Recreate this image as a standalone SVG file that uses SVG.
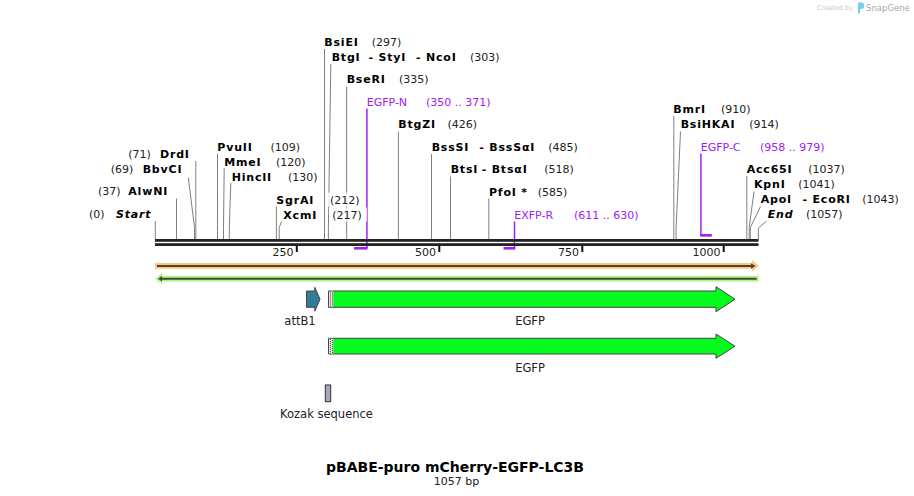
<svg xmlns="http://www.w3.org/2000/svg" width="914" height="496" viewBox="0 0 914 496">
<style>
.n{font-family:"DejaVu Sans",Verdana,sans-serif;font-weight:bold;font-size:11px;letter-spacing:0.8px;fill:#000}
.it{font-style:italic}
.p{font-family:"DejaVu Sans",Verdana,sans-serif;font-size:11px;fill:#222}
.pr{font-family:"DejaVu Sans",Verdana,sans-serif;font-size:11px;fill:#a020f0}
.en{stroke:#808080;stroke-width:1;fill:none}
.pl{stroke:#a020f0;stroke-width:1.5;fill:none}
.fl{font-family:"DejaVu Sans",Verdana,sans-serif;font-size:11.5px;fill:#222;text-anchor:middle}
.tk{stroke:#111;stroke-width:2}
.tl{font-family:"DejaVu Sans",Verdana,sans-serif;font-size:11px;fill:#222;text-anchor:end}
.feat{stroke:#444;stroke-width:1}
.wb{fill:#fff;opacity:0.8}
</style>
<rect width="914" height="496" fill="#fff"/>

<!-- watermark -->
<g id="watermark">
<text x="817" y="10" font-family="DejaVu Sans,sans-serif" font-size="6.5" fill="#c8c8c8">Created by</text>
<path d="M858,2.5 h3 a3.2,3.2 0 0 1 0,6.4 h-1 v4.3 h-2 z" fill="#7cc9ee"/>
<text x="866" y="11" font-family="DejaVu Sans,sans-serif" font-size="8.5" fill="#a8a8a8">SnapGene</text>
</g>

<!-- connectors: enzyme site lines and primer lines -->
<g id="connectors">
<path class="en" d="M155.3,221 V239"/>
<path class="en" d="M176.5,198.5 V239"/>
<path class="en" d="M188.3,177.5 L194.5,227.5 V239"/>
<path class="en" d="M195.8,161 V239"/>
<path class="en" d="M217.5,153.5 V239"/>
<path class="en" d="M224.2,168 L223.5,227.5 V239"/>
<path class="en" d="M230.8,183 L229.3,227.5 V239"/>
<path class="en" d="M276.4,206.5 V239"/>
<path class="en" d="M281.5,221.5 L279.2,227.5 V239"/>
<path class="en" d="M324.5,49 V239"/>
<path class="en" d="M330.8,64 L328.4,227.5 V239"/>
<path class="en" d="M346.7,86.5 V239"/>
<path class="en" d="M398.4,131.5 V239"/>
<path class="en" d="M431.5,154 V239"/>
<path class="en" d="M450.5,176.5 V239"/>
<path class="en" d="M488.8,198.5 V239"/>
<path class="en" d="M673.8,116 V239"/>
<path class="en" d="M680.5,131.5 L676.1,228 V239"/>
<path class="en" d="M746.8,176 V239"/>
<path class="en" d="M754,191.5 L749.2,227.5 V239"/>
<path class="en" d="M760.5,206.5 L750.3,227.5 V239"/>
<path class="en" d="M766.5,221 L758.4,228 V239"/>
<!-- primers -->
<path class="pl" d="M366.9,108.5 V248"/>
<rect x="354" y="247" width="13.6" height="2.6" fill="#a020f0"/>
<path class="pl" d="M514.5,221.5 V248"/>
<rect x="503.5" y="247" width="11.8" height="2.6" fill="#a020f0"/>
<path class="pl" d="M700.9,153.5 V236"/>
<rect x="700.2" y="234" width="11.6" height="2.6" fill="#a020f0"/>
</g>

<!-- sequence axis -->
<g id="axis">
<rect x="155" y="239" width="603.5" height="2.8" fill="#222"/>
<rect x="155" y="243.2" width="603.5" height="2.8" fill="#222"/>
<line class="tk" x1="296.8" y1="246" x2="296.8" y2="252"/>
<line class="tk" x1="439.3" y1="246" x2="439.3" y2="252"/>
<line class="tk" x1="582.3" y1="246" x2="582.3" y2="252"/>
<line class="tk" x1="723.7" y1="246" x2="723.7" y2="252"/>
<text class="tl" x="293.5" y="255.5">250</text>
<text class="tl" x="436" y="255.5">500</text>
<text class="tl" x="579" y="255.5">750</text>
<text class="tl" x="720.5" y="255.5">1000</text>
</g>

<!-- enzyme labels -->
<g id="site-Start"><text y="218.3"><tspan class="p" x="89">(0)</tspan><tspan class="n it" x="116">Start</tspan></text></g>
<g id="site-AlwNI"><text y="195"><tspan class="p" x="98">(37)</tspan><tspan class="n" x="128.3">AlwNI</tspan></text></g>
<g id="site-BbvCI"><text y="173.3"><tspan class="p" x="110.7">(69)</tspan><tspan class="n" x="142.7">BbvCI</tspan></text></g>
<g id="site-DrdI"><text y="158.3"><tspan class="p" x="128.3">(71)</tspan><tspan class="n" x="160">DrdI</tspan></text></g>
<g id="site-PvuII"><text y="150.7"><tspan class="n" x="217.3">PvuII</tspan><tspan class="p" x="270.5">(109)</tspan></text></g>
<g id="site-MmeI"><text y="165.7"><tspan class="n" x="224.3">MmeI</tspan><tspan class="p" x="276">(120)</tspan></text></g>
<g id="site-HincII"><text y="180.7"><tspan class="n" x="231.7">HincII</tspan><tspan class="p" x="288">(130)</tspan></text></g>
<g id="site-SgrAI"><rect class="wb" x="327" y="192.5" width="35" height="14"/><text y="203.7"><tspan class="n" x="276.3">SgrAI</tspan><tspan class="p" x="330">(212)</tspan></text></g>
<g id="site-XcmI"><rect class="wb" x="329" y="207.5" width="38" height="14"/><text y="218.7"><tspan class="n" x="283.3">XcmI</tspan><tspan class="p" x="332.3">(217)</tspan></text></g>
<g id="site-BsiEI"><text y="45.7"><tspan class="n" x="324.3">BsiEI</tspan><tspan class="p" x="371.7">(297)</tspan></text></g>
<g id="site-BtgI"><text y="60.7"><tspan class="n" x="331.7">BtgI</tspan><tspan class="n" x="368.5">- StyI</tspan><tspan class="n" x="416">- NcoI</tspan><tspan class="p" x="470">(303)</tspan></text></g>
<g id="site-BseRI"><text y="83.3"><tspan class="n" x="346.7">BseRI</tspan><tspan class="p" x="399">(335)</tspan></text></g>
<g id="primer-EGFP-N"><text y="105.7"><tspan class="pr" x="366.7">EGFP-N</tspan><tspan class="pr" x="426">(350 .. 371)</tspan></text></g>
<g id="site-BtgZI"><text y="128.3"><tspan class="n" x="398.3">BtgZI</tspan><tspan class="p" x="447.5">(426)</tspan></text></g>
<g id="site-BssSI"><text y="150.7"><tspan class="n" x="431.7">BssSI</tspan><tspan class="n" x="479.3">- BssSαI</tspan><tspan class="p" x="548.3">(485)</tspan></text></g>
<g id="site-BtsI"><text y="173.3"><tspan class="n" x="450.7">BtsI</tspan><tspan class="n" x="481.7">- BtsαI</tspan><tspan class="p" x="544.3">(518)</tspan></text></g>
<g id="site-PfoI"><text y="195.7"><tspan class="n" x="489">PfoI *</tspan><tspan class="p" x="537.7">(585)</tspan></text></g>
<g id="primer-EXFP-R"><text y="218.7"><tspan class="pr" x="514.3">EXFP-R</tspan><tspan class="pr" x="574">(611 .. 630)</tspan></text></g>
<g id="site-BmrI"><text y="113.3"><tspan class="n" x="673.3">BmrI</tspan><tspan class="p" x="721">(910)</tspan></text></g>
<g id="site-BsiHKAI"><text y="128.3"><tspan class="n" x="680.7">BsiHKAI</tspan><tspan class="p" x="749.3">(914)</tspan></text></g>
<g id="primer-EGFP-C"><text y="150.7"><tspan class="pr" x="700.7">EGFP-C</tspan><tspan class="pr" x="760">(958 .. 979)</tspan></text></g>
<g id="site-Acc65I"><text y="173.3"><tspan class="n" x="746.7">Acc65I</tspan><tspan class="p" x="808.3">(1037)</tspan></text></g>
<g id="site-KpnI"><text y="188.3"><tspan class="n" x="754">KpnI</tspan><tspan class="p" x="798.3">(1041)</tspan></text></g>
<g id="site-ApoI"><text y="203.3"><tspan class="n" x="760.7">ApoI</tspan><tspan class="n" x="802.5">- EcoRI</tspan><tspan class="p" x="862.3">(1043)</tspan></text></g>
<g id="site-End"><text y="218.3"><tspan class="n it" x="767.7">End</tspan><tspan class="p" x="806">(1057)</tspan></text></g>

<!-- ORF-like bars -->
<g id="bar-forward">
<path d="M155,263 H752 V260 L758.7,265.8 L752,271.5 V268.7 H155 Z" fill="#f9c97c"/>
<path d="M157,265 H751 V263.3 L755.5,266 L751,268.7 V267 H157 Z" fill="#4a4236"/>
</g>
<g id="bar-reverse">
<path d="M758.7,275.7 H162.5 V272.7 L155,278.7 L162.5,284.7 V281.7 H758.7 Z" fill="#b8f48e"/>
<path d="M756.7,277.7 H162 V276 L158,278.7 L162,281.4 V279.7 H756.7 Z" fill="#434a3c"/>
</g>

<!-- features -->
<g id="feature-attB1">
<path class="feat" d="M306.5,291 H314.8 V287.3 L320,299.2 L314.8,311.2 V307.3 H306.5 Z" fill="#2f7e98" stroke="#222"/>
<text class="fl" x="300" y="325">attB1</text>
</g>
<g id="feature-EGFP-1">
<path class="feat" d="M328.5,291 H716 V286.7 L735,299.2 L716,311.7 V307.3 H328.5 Z" fill="#06fb1f"/>
<rect x="329" y="291.5" width="4.2" height="15.3" fill="#fff"/>
<line x1="330.3" y1="291.5" x2="330.3" y2="306.8" stroke="#000" stroke-width="1" stroke-dasharray="1,1"/>
<line x1="332.3" y1="292.5" x2="332.3" y2="306.8" stroke="#000" stroke-width="1" stroke-dasharray="1,1"/>
<text class="fl" x="530" y="325">EGFP</text>
</g>
<g id="feature-EGFP-2">
<path class="feat" d="M328.5,338.3 H716 V334 L735,346.2 L716,358.3 V354 H328.5 Z" fill="#06fb1f"/>
<rect x="329" y="338.8" width="4.2" height="14.7" fill="#fff"/>
<line x1="330.3" y1="338.8" x2="330.3" y2="353.5" stroke="#000" stroke-width="1" stroke-dasharray="1,1"/>
<line x1="332.3" y1="339.8" x2="332.3" y2="353.5" stroke="#000" stroke-width="1" stroke-dasharray="1,1"/>
<text class="fl" x="530" y="372">EGFP</text>
</g>
<g id="feature-Kozak">
<rect x="325.3" y="385" width="5.4" height="16.7" fill="#a5a8b0" stroke="#333" stroke-width="1"/>
<text class="fl" x="326.5" y="418.3">Kozak sequence</text>
</g>

<!-- title -->
<g id="title">
<text x="455" y="472" text-anchor="middle" font-family="DejaVu Sans,Verdana,sans-serif" font-weight="bold" font-size="14" fill="#000">pBABE-puro mCherry-EGFP-LC3B</text>
<text x="456.5" y="485" text-anchor="middle" font-family="DejaVu Sans,Verdana,sans-serif" font-size="11" fill="#222">1057 bp</text>
</g>
</svg>
